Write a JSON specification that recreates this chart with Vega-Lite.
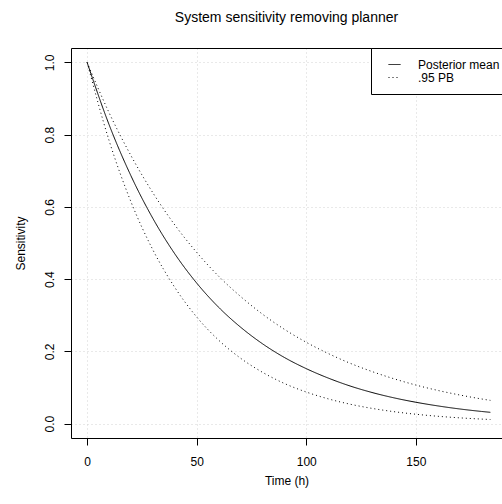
{
  "$schema": "https://vega.github.io/schema/vega-lite/v6.json",
  "width": 431,
  "height": 390,
  "autosize": {"type": "none"},
  "padding": {"left": 71, "top": 48, "right": 0, "bottom": 66},
  "background": "white",
  "title": {
    "text": "System sensitivity removing planner",
    "anchor": "middle",
    "frame": "group",
    "fontSize": 14,
    "fontWeight": "normal",
    "font": "Liberation Sans",
    "color": "black",
    "baseline": "alphabetic",
    "offset": 12
  },
  "data": {
    "values": [
      {"t": 0, "v": 1, "band": "mean", "series": "Posterior mean"},
      {"t": 10, "v": 0.828, "band": "mean", "series": "Posterior mean"},
      {"t": 20, "v": 0.686, "band": "mean", "series": "Posterior mean"},
      {"t": 30, "v": 0.568, "band": "mean", "series": "Posterior mean"},
      {"t": 40, "v": 0.470, "band": "mean", "series": "Posterior mean"},
      {"t": 50, "v": 0.389, "band": "mean", "series": "Posterior mean"},
      {"t": 60, "v": 0.322, "band": "mean", "series": "Posterior mean"},
      {"t": 70, "v": 0.267, "band": "mean", "series": "Posterior mean"},
      {"t": 80, "v": 0.221, "band": "mean", "series": "Posterior mean"},
      {"t": 90, "v": 0.183, "band": "mean", "series": "Posterior mean"},
      {"t": 100, "v": 0.152, "band": "mean", "series": "Posterior mean"},
      {"t": 110, "v": 0.126, "band": "mean", "series": "Posterior mean"},
      {"t": 120, "v": 0.104, "band": "mean", "series": "Posterior mean"},
      {"t": 130, "v": 0.086, "band": "mean", "series": "Posterior mean"},
      {"t": 140, "v": 0.0712, "band": "mean", "series": "Posterior mean"},
      {"t": 150, "v": 0.059, "band": "mean", "series": "Posterior mean"},
      {"t": 160, "v": 0.0489, "band": "mean", "series": "Posterior mean"},
      {"t": 170, "v": 0.0404, "band": "mean", "series": "Posterior mean"},
      {"t": 180, "v": 0.0335, "band": "mean", "series": "Posterior mean"},
      {"t": 184, "v": 0.0311, "band": "mean", "series": "Posterior mean"},
      {"t": 0, "v": 1, "band": "upper", "series": ".95 PB"},
      {"t": 10, "v": 0.861, "band": "upper", "series": ".95 PB"},
      {"t": 20, "v": 0.742, "band": "upper", "series": ".95 PB"},
      {"t": 30, "v": 0.639, "band": "upper", "series": ".95 PB"},
      {"t": 40, "v": 0.550, "band": "upper", "series": ".95 PB"},
      {"t": 50, "v": 0.474, "band": "upper", "series": ".95 PB"},
      {"t": 60, "v": 0.408, "band": "upper", "series": ".95 PB"},
      {"t": 70, "v": 0.352, "band": "upper", "series": ".95 PB"},
      {"t": 80, "v": 0.303, "band": "upper", "series": ".95 PB"},
      {"t": 90, "v": 0.261, "band": "upper", "series": ".95 PB"},
      {"t": 100, "v": 0.225, "band": "upper", "series": ".95 PB"},
      {"t": 110, "v": 0.194, "band": "upper", "series": ".95 PB"},
      {"t": 120, "v": 0.167, "band": "upper", "series": ".95 PB"},
      {"t": 130, "v": 0.144, "band": "upper", "series": ".95 PB"},
      {"t": 140, "v": 0.124, "band": "upper", "series": ".95 PB"},
      {"t": 150, "v": 0.1066, "band": "upper", "series": ".95 PB"},
      {"t": 160, "v": 0.0918, "band": "upper", "series": ".95 PB"},
      {"t": 170, "v": 0.0791, "band": "upper", "series": ".95 PB"},
      {"t": 180, "v": 0.0681, "band": "upper", "series": ".95 PB"},
      {"t": 184, "v": 0.0642, "band": "upper", "series": ".95 PB"},
      {"t": 0, "v": 1, "band": "lower", "series": ".95 PB"},
      {"t": 10, "v": 0.784, "band": "lower", "series": ".95 PB"},
      {"t": 20, "v": 0.614, "band": "lower", "series": ".95 PB"},
      {"t": 30, "v": 0.481, "band": "lower", "series": ".95 PB"},
      {"t": 40, "v": 0.377, "band": "lower", "series": ".95 PB"},
      {"t": 50, "v": 0.295, "band": "lower", "series": ".95 PB"},
      {"t": 60, "v": 0.231, "band": "lower", "series": ".95 PB"},
      {"t": 70, "v": 0.181, "band": "lower", "series": ".95 PB"},
      {"t": 80, "v": 0.142, "band": "lower", "series": ".95 PB"},
      {"t": 90, "v": 0.111, "band": "lower", "series": ".95 PB"},
      {"t": 100, "v": 0.0873, "band": "lower", "series": ".95 PB"},
      {"t": 110, "v": 0.0684, "band": "lower", "series": ".95 PB"},
      {"t": 120, "v": 0.0536, "band": "lower", "series": ".95 PB"},
      {"t": 130, "v": 0.042, "band": "lower", "series": ".95 PB"},
      {"t": 140, "v": 0.0329, "band": "lower", "series": ".95 PB"},
      {"t": 150, "v": 0.0258, "band": "lower", "series": ".95 PB"},
      {"t": 160, "v": 0.0202, "band": "lower", "series": ".95 PB"},
      {"t": 170, "v": 0.0158, "band": "lower", "series": ".95 PB"},
      {"t": 180, "v": 0.0124, "band": "lower", "series": ".95 PB"},
      {"t": 184, "v": 0.0112, "band": "lower", "series": ".95 PB"}
    ]
  },
  "layer": [
    {
      "mark": {"type": "line", "interpolate": "monotone", "color": "black", "strokeWidth": 1},
      "encoding": {
        "x": {
          "field": "t",
          "type": "quantitative",
          "scale": {"domain": [-7.36, 189.3], "nice": false, "zero": false},
          "axis": {
            "orient": "bottom",
            "values": [0, 50, 100, 150],
            "title": "Time (h)",
            "titlePadding": 8,
            "labelPadding": 11,
            "grid": true
          }
        },
        "y": {
          "field": "v",
          "type": "quantitative",
          "scale": {"domain": [-0.04, 1.04], "nice": false, "zero": false},
          "axis": {
            "orient": "left",
            "values": [0, 0.2, 0.4, 0.6, 0.8, 1.0],
            "format": ".1f",
            "title": "Sensitivity",
            "labelAngle": 270,
            "labelAlign": "center",
            "labelBaseline": "bottom",
            "labelPadding": 8,
            "titlePadding": 16,
            "grid": true
          }
        },
        "strokeDash": {
          "field": "series",
          "type": "nominal",
          "scale": {"domain": ["Posterior mean", ".95 PB"], "range": [[1, 0], [1, 3]]},
          "legend": {
            "orient": "none",
            "legendX": 300,
            "legendY": 0,
            "title": null
          }
        },
        "detail": {"field": "band"}
      }
    },
    {
      "mark": {"type": "line", "opacity": 0},
      "encoding": {
        "x": {
          "field": "t",
          "type": "quantitative",
          "axis": {"orient": "top", "labels": false, "ticks": false, "grid": false, "title": null, "domain": true}
        },
        "y": {"field": "v", "type": "quantitative", "axis": null},
        "detail": {"field": "band"}
      }
    }
  ],
  "resolve": {"axis": {"x": "independent", "y": "independent"}},
  "config": {
    "font": "Liberation Sans",
    "view": {"stroke": null},
    "axis": {
      "domainColor": "black",
      "domainWidth": 1,
      "tickColor": "black",
      "tickSize": 7,
      "tickWidth": 1,
      "labelFont": "Liberation Sans",
      "labelFontSize": 12,
      "labelColor": "black",
      "titleFont": "Liberation Sans",
      "titleFontSize": 12,
      "titleFontWeight": "normal",
      "titleColor": "black",
      "gridColor": "#D3D3D3",
      "gridDash": [1, 3],
      "gridWidth": 1
    },
    "legend": {
      "strokeColor": "black",
      "fillColor": "white",
      "padding": 10,
      "symbolOffset": 7,
      "cornerRadius": 0,
      "symbolType": "stroke",
      "symbolSize": 144,
      "symbolStrokeWidth": 1,
      "symbolStrokeColor": "black",
      "labelFont": "Liberation Sans",
      "labelFontSize": 12,
      "labelColor": "black",
      "labelOffset": 17,
      "rowPadding": 0
    }
  }
}
